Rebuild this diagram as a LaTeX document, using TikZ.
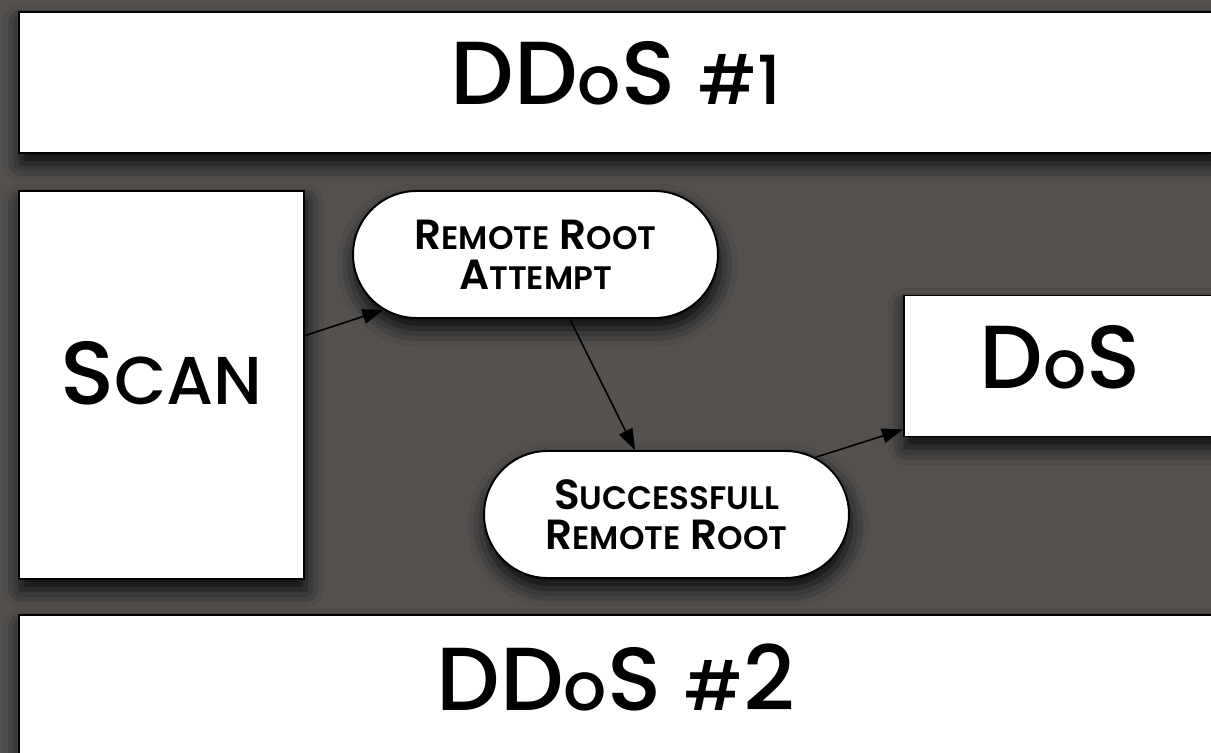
\documentclass[tikz,border=0pt]{standalone}
\usepackage{fontspec}
\setmainfont{Poppins}[UprightFont=* Medium, BoldFont=* SemiBold]
\usepackage{xcolor}
\usetikzlibrary{shapes,arrows,positioning,calc,arrows.meta,shadows.blur}

\definecolor{slate}{RGB}{84,81,79}
% small caps by hand
\newcommand{\hc}[1]{{\fontsize{38.5}{46}\selectfont #1}}
\newcommand{\lc}[1]{{\fontsize{18.5}{25}\selectfont #1}}

\tikzset{
    box/.style={rectangle, draw=black, line width=1.1pt, fill=white, inner sep=0pt,
        blur shadow={shadow xshift=1pt, shadow yshift=-6pt, shadow blur radius=10pt, shadow opacity=90}},
    big/.style={box, font=\fontsize{51}{60}\selectfont, text height=1.86cm, text depth=0.96cm},
    pill/.style={box, rounded rectangle, minimum width=7.3cm, minimum height=2.54cm,
        align=center, font=\bfseries\fontsize{24}{23}\selectfont},
    flow/.style={-{Triangle[length=12pt,width=8.5pt]}, line width=0.9pt}
}

\begin{document}
\begin{tikzpicture}[x=0.02cm, y=-0.02cm]
    \fill[slate] (0,0) rectangle (1211,753);
    \useasboundingbox (0,0) rectangle (1211,753);

    \node[big, minimum width=23.88cm] (ddos1) at (616,82.5) {DD\hc{o}S \hc{\#1}};
    \node[box, minimum width=5.7cm, font=\fontsize{51}{60}\selectfont,
          text height=4.28cm, text depth=3.48cm] (scan) at (161.5,385) {S\hc{CAN}};
    \node[pill] (rra) at (535.5,254.5) {R\lc{EMOTE} R\lc{OOT}\\A\lc{TTEMPT}};
    \node[pill] (srr) at (666.5,514.5) {S\lc{UCCESSFULL}\\R\lc{EMOTE} R\lc{OOT}};
    \node[big, minimum width=6.24cm] (dos) at (1060,366) {D\hc{o}S};
    \node[big, minimum width=23.88cm, text height=1.92cm, text depth=1.18cm] (ddos2) at (616,692.5) {DD\hc{o}S \hc{\#}2};

    \draw[flow] (scan.19) -- (rra.200);
    \draw[flow] (rra.298) -- (srr.116);
    \draw[flow] (srr.21) -- (dos.202);
\end{tikzpicture}
\end{document}
